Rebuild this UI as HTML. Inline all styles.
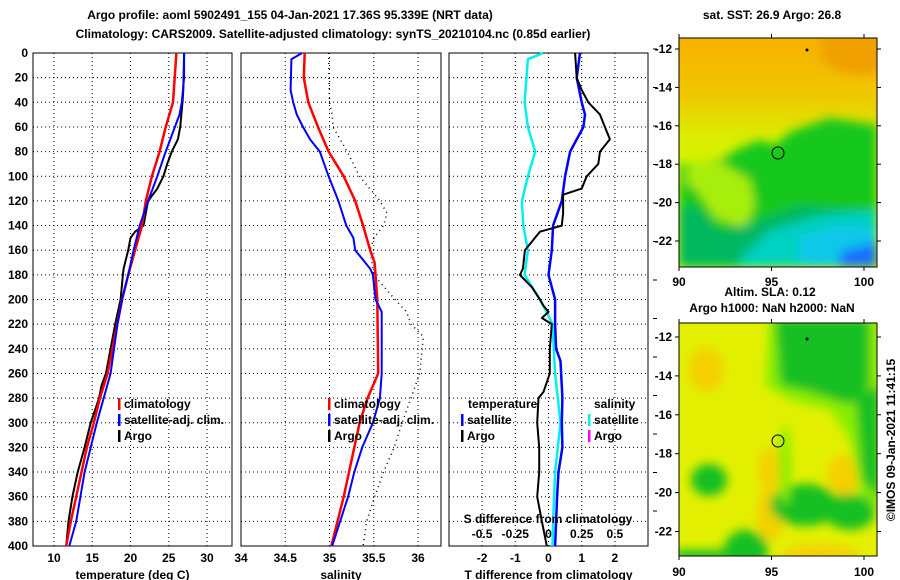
<!DOCTYPE html>
<html><head><meta charset="utf-8"><style>
html,body{margin:0;padding:0;background:#fff}
svg{display:block}
text{font-family:"Liberation Sans",sans-serif;font-weight:bold;font-size:12px;fill:#000}
</style></head><body>
<svg id="fig" width="900" height="580" viewBox="0 0 900 580">
<defs>
<filter id="bl" x="-20%" y="-20%" width="140%" height="140%"><feGaussianBlur stdDeviation="5"/></filter>
<clipPath id="c1"><rect x="679" y="38" width="198" height="229"/></clipPath>
<clipPath id="c2"><rect x="679" y="323" width="198" height="233"/></clipPath>
<linearGradient id="sstg" x1="0" y1="0" x2="0" y2="1">
<stop offset="0" stop-color="#f7b000"/><stop offset="0.25" stop-color="#f0c800"/><stop offset="0.45" stop-color="#d8f000"/><stop offset="1" stop-color="#c8f800"/></linearGradient>
</defs>
<text x="290" y="19" text-anchor="middle" font-size="13">Argo profile: aoml 5902491_155 04-Jan-2021 17.36S 95.339E (NRT data)</text>
<text x="333" y="38" text-anchor="middle" font-size="13">Climatology: CARS2009. Satellite-adjusted climatology: synTS_20210104.nc (0.85d earlier)</text>
<g id="panels"></g>
<!-- top map -->
<g>
<g clip-path="url(#c1)">
<rect x="679" y="38" width="198" height="229" fill="url(#sstg)"/>
<ellipse cx="860" cy="50" rx="40" ry="25" fill="#f0a000" filter="url(#bl)"/>
<g filter="url(#bl)">
<polygon points="679,165 720,160 740,148 760,140 775,145 790,132 830,118 877,125 877,267 679,267" fill="#14c81e"/>
<polygon points="690,162 720,162 750,180 755,205 745,228 715,218 700,195 685,180" fill="#a8ee10"/>
<polygon points="679,205 700,210 720,232 760,220 800,205 877,212 877,267 679,267" fill="#00b860"/>
<polygon points="740,258 770,230 820,215 877,210 877,267 740,267" fill="#00d0c0"/>
<polygon points="800,235 840,225 877,228 877,267 800,267" fill="#10c8e8"/>
<polygon points="840,252 877,242 877,267 840,267" fill="#1870ff"/>
</g>
</g>
<rect x="679" y="38" width="198" height="229" fill="none" stroke="#000"/>
<circle cx="778" cy="153" r="6" fill="none" stroke="#000"/>
<circle cx="807" cy="50" r="1.5" fill="#000"/>
</g>
<text x="772" y="19" text-anchor="middle">sat. SST: 26.9 Argo: 26.8</text>
<!-- bottom map -->
<g>
<g clip-path="url(#c2)">
<rect x="679" y="323" width="198" height="233" fill="#e2f000"/>
<g filter="url(#bl)">
<ellipse cx="706" cy="370" rx="18" ry="22" fill="#f4d000"/>
<ellipse cx="770" cy="515" rx="14" ry="25" fill="#f4d000"/>
<ellipse cx="770" cy="470" rx="12" ry="22" fill="#f4d000"/>
<ellipse cx="845" cy="475" rx="18" ry="20" fill="#f4d000"/>
<ellipse cx="820" cy="555" rx="40" ry="10" fill="#f4d000"/>
<polygon points="770,318 880,318 880,510 860,495 850,440 830,410 790,400 765,385" fill="#88ee00"/>
<polygon points="775,318 870,318 870,385 850,405 810,392 780,385" fill="#14c020"/>
<polygon points="855,395 880,385 880,500 862,480" fill="#14c020"/>
<ellipse cx="709" cy="480" rx="18" ry="16" fill="#14c020"/>
<ellipse cx="805" cy="505" rx="35" ry="21" fill="#14c020"/>
<ellipse cx="850" cy="512" rx="25" ry="18" fill="#14c020"/>
<ellipse cx="785" cy="465" rx="6" ry="40" fill="#88ee00"/>
<ellipse cx="746" cy="550" rx="22" ry="20" fill="#14c020"/>
<rect x="675" y="550" width="60" height="12" fill="#14c020"/>
</g>
</g>
<rect x="679" y="323" width="198" height="233" fill="none" stroke="#000"/>
<circle cx="778" cy="441" r="6" fill="none" stroke="#000"/>
<circle cx="807" cy="339" r="1.5" fill="#000"/>
</g>
<text x="770" y="296" text-anchor="middle">Altim. SLA: 0.12</text>
<text x="772" y="312" text-anchor="middle">Argo h1000: NaN h2000: NaN</text>
<text transform="translate(895,440) rotate(-90)" text-anchor="middle" font-weight="normal">©IMOS 09-Jan-2021 11:41:15</text>
<g id="mapaxes"></g>
</svg>
<script>
// ---- data ----
const tClimDepth = [0,40,60,80,100,120,140,160,180,200,260,280,300,320,340,360,380,400];
const tClimVal   = [26.0,25.55,24.6,23.8,22.8,22.0,21.5,20.6,19.7,18.9,17.0,16.0,15.2,14.3,13.6,12.9,12.2,11.6];
const tSatDepth  = [0,20,40,50,60,80,100,120,140,160,180,200,220,260,300,340,380,400];
const tSatVal    = [27.0,27.0,26.7,26.4,25.8,24.6,23.5,22.3,21.2,20.4,19.7,18.9,18.3,17.4,15.6,14.0,12.9,12.0];
const tArgoDepth = [0,30,40,60,70,80,90,100,110,120,140,145,150,160,175,180,200,220,260,270,280,300,320,340,360,380,400];
const tArgoVal   = [27.0,26.9,26.8,26.5,26.2,25.4,24.8,24.3,23.5,22.3,21.7,20.6,20.0,19.7,19.1,19.0,18.7,18.0,16.8,16.2,15.9,14.8,14.0,13.1,12.4,11.9,11.6];
const sClimDepth = [0,20,40,60,80,100,120,140,160,170,180,200,260,270,280,300,340,360,380,400];
const sClimVal   = [34.72,34.71,34.76,34.87,34.99,35.16,35.29,35.38,35.46,35.51,35.52,35.54,35.55,35.49,35.43,35.34,35.22,35.16,35.09,35.02];
const sSatDepth  = [0,5,30,40,50,60,70,80,100,120,140,150,160,175,180,200,210,260,280,300,320,340,360,380,400];
const sSatVal    = [34.69,34.57,34.56,34.59,34.63,34.70,34.78,34.89,34.99,35.10,35.19,35.27,35.29,35.46,35.49,35.52,35.59,35.59,35.57,35.49,35.37,35.28,35.21,35.12,35.03];
const sArgoDepth = [0,40,50,60,80,100,120,130,140,150,160,180,200,210,220,230,260,280,300,320,340,360,380,400];
const sArgoVal   = [34.99,35.0,35.03,35.04,35.2,35.34,35.57,35.65,35.61,35.5,35.46,35.5,35.74,35.87,35.92,36.06,36.02,35.92,35.82,35.73,35.61,35.51,35.42,35.38];
const dTSatDepth = [0,20,40,50,60,80,100,120,140,160,180,200,220,240,250,280,300,320,340,360,380,400];
const dTSatVal   = [0.95,0.85,1.0,1.1,1.05,0.65,0.5,0.4,0.14,0.1,0,0.2,0.2,0.23,0.36,0.42,0.4,0.42,0.3,0.26,0.23,0.2];
const dTArgoDepth= [0,20,30,40,50,60,70,80,90,100,110,115,130,140,145,160,175,180,190,200,205,210,215,220,240,260,275,280,300,320,340,360,380,400];
const dTArgoVal  = [0.8,0.85,1.0,1.2,1.55,1.7,1.85,1.55,1.5,1.15,1.0,0.44,0.44,0.4,-0.26,-0.71,-0.77,-0.86,-0.5,-0.26,-0.15,0,-0.2,0.1,0.04,0.04,-0.15,-0.3,-0.34,-0.28,-0.28,-0.34,-0.2,-0.05];
const dSSatDepth = [0,5,40,60,80,100,120,140,160,180,200,210,220,260,300,340,380,400];
const dSSatVal   = [-0.04,-0.155,-0.18,-0.155,-0.1,-0.155,-0.2,-0.19,-0.155,-0.18,-0.065,-0.015,0.03,0.05,0.09,0.05,0.035,0.03];
const depthTicks = [0,20,40,60,80,100,120,140,160,180,200,220,240,260,280,300,320,340,360,380,400];
const tTicks = [10,15,20,25,30];
const sTicks = [34,34.5,35,35.5,36];
const dTicks = [-2,-1,0,1,2];
const dSTickLabels = ["-0.5","-0.25","0","0.25","0.5"];
const dSTickVals = [-0.5,-0.25,0,0.25,0.5];
const lonTicks=[90,95,100];
const latTicks=[-12,-14,-16,-18,-20,-22];

// ---- scales ----
const Y0=53, Y1=546;
const yD = d => Y0 + d*(Y1-Y0)/400;
const P1={x0:33,x1:232}, P2={x0:241,x1:441}, P3={x0:449,x1:648};
const xT = t => 54 + (t-10)*7.65;
const xS = s => 241 + (s-34)*88.5;
const xD = v => 548.5 + v*33.2;
const xDS = v => xD(v*4);

const NS='http://www.w3.org/2000/svg';
const root=document.getElementById('panels');
function mk(tag, attrs, parent){const e=document.createElementNS(NS,tag);for(const k in attrs)e.setAttribute(k,attrs[k]);(parent||root).appendChild(e);return e;}
function txt(x,y,s,anchor,parent){const e=mk('text',{x:x,y:y,'text-anchor':anchor||'middle'},parent);e.textContent=s;return e;}

function panel(P,name,ticks,xf,title){
  const g=mk('g',{});
  
  
  depthTicks.forEach(d=>{ if(d>0&&d<400){const l=mk('line',{x1:P.x0,x2:P.x1,y1:yD(d),y2:yD(d),stroke:'#000','stroke-dasharray':'1,3'},g);
    
    }});
  ticks.forEach(t=>{const x=xf(t); if(x>P.x0+1&&x<P.x1-1){const l=mk('line',{x1:x,x2:x,y1:Y0,y2:Y1,stroke:'#000','stroke-dasharray':'1,3'},g);
    
    }
    const tl=txt(x,562,String(t),'middle',g);
    
    });
  const f=mk('rect',{x:P.x0,y:Y0,width:P.x1-P.x0,height:Y1-Y0,fill:'none',stroke:'#000'},g);
  
  
  const at=txt((P.x0+P.x1)/2,579,title,'middle',g);
  
  
  return g;
}
const g1=panel(P1,'temperature-panel',tTicks,xT,'temperature (deg C)');
const g2=panel(P2,'salinity-panel',sTicks,xS,'salinity');
const g3=panel(P3,'difference-panel',dTicks,xD,'T difference from climatology');

depthTicks.forEach(d=>{const t=txt(28,yD(d)+4,String(d),'end');
  
  });

function line(depths,vals,xf,color,w,name,dash,parent){
  const pts=depths.map((d,i)=>xf(vals[i]).toFixed(1)+','+yD(d).toFixed(1)).join(' ');
  const attrs={points:pts,fill:'none',stroke:color,'stroke-width':w,'stroke-linejoin':'round'};
  if(dash)attrs['stroke-dasharray']=dash;
  const p=mk('polyline',attrs,parent);
  
  
}
line(tArgoDepth,tArgoVal,xT,'#000',2,'temp-argo-line',null,g1);
line(tClimDepth,tClimVal,xT,'#f00',2.5,'temp-climatology-line',null,g1);
line(tSatDepth,tSatVal,xT,'#00f',2,'temp-satellite-line',null,g1);
line(sArgoDepth,sArgoVal,xS,'#000',1.5,'sal-argo-line','1,4',g2);
line(sClimDepth,sClimVal,xS,'#f00',2.5,'sal-climatology-line',null,g2);
line(sSatDepth,sSatVal,xS,'#00f',2,'sal-satellite-line',null,g2);
line(dSSatDepth,dSSatVal,xDS,'#00f0f0',2.5,'sdiff-satellite-line',null,g3);
line(dTSatDepth,dTSatVal,xD,'#00f',2.5,'tdiff-satellite-line',null,g3);
line(dTArgoDepth,dTArgoVal,xD,'#000',2,'tdiff-argo-line',null,g3);

function legend(x,y,items,parent){
  items.forEach((it,i)=>{
    const yy=y+i*16;
    const b=mk('rect',{x:x,y:yy-10,width:2.5,height:12,fill:it[1]},parent);
    
    
    const t=txt(x+6,yy,it[0],'start',parent);
    
    
  });
}
const legItems=[['climatology','#f00'],['satellite-adj. clim.','#00f'],['Argo','#000']];
legend(118,408,legItems,g1);
legend(328,408,legItems,g2);
const h1=txt(468,408,'temperature','start',g3);


const h2=txt(594,408,'salinity','start',g3);


legend(461,424,[['satellite','#00f'],['Argo','#000']],g3);
legend(588,424,[['satellite','#00f0f0'],['Argo','#f0f']],g3);
const st=txt(548,523,'S difference from climatology','middle',g3);


dSTickVals.forEach((v,i)=>{const t=txt(xDS(v),538,dSTickLabels[i],'middle',g3);
  
  });
for(let y=49;y<546;y+=38.5){mk('line',{x1:653,x2:657,y1:y,y2:y,stroke:'#000'});}

// map axes
const ma=document.getElementById('mapaxes');
function mapAxes(top,bottom,lat12,perDeg,labY,name){
  const g=mk('g',{},ma);
  
  
  lonTicks.forEach(l=>{const x=679+(l-90)*18.5;
    mk('line',{x1:x,x2:x,y1:top-4,y2:top,stroke:'#000'},g);
    mk('line',{x1:x,x2:x,y1:bottom,y2:bottom+4,stroke:'#000'},g);
    const t=txt(x,labY,String(l),'middle',g);
    
    });
  latTicks.forEach(l=>{const y=lat12+(-12-l)*perDeg;
    mk('line',{x1:675,x2:679,y1:y,y2:y,stroke:'#000'},g);
    mk('line',{x1:877,x2:881,y1:y,y2:y,stroke:'#000'},g);
    const t=txt(672,y+4,String(l),'end',g);
    
    });
}
mapAxes(38,267,49,19.2,286,'sst-map-axes');
mapAxes(323,556,337,19.45,576,'sla-map-axes');
</script>
</body></html>
